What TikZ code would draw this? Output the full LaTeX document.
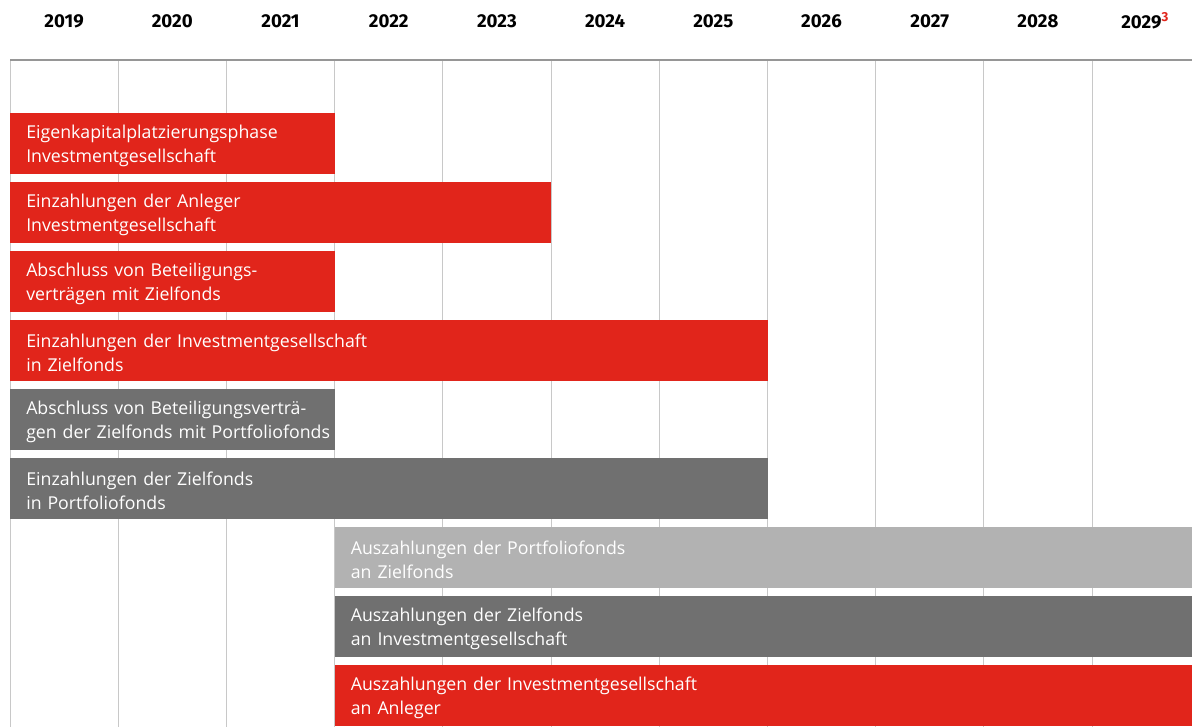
\documentclass[tikz,border=0pt]{standalone}
\usepackage{fontspec}
\setmainfont{Open Sans}
\newfontfamily\yearfont{Fira Sans}
\definecolor{cred}{RGB}{225,37,27}
\definecolor{cdark}{RGB}{112,112,112}
\definecolor{clight}{RGB}{178,178,178}
\definecolor{cgrid}{RGB}{200,200,200}
\definecolor{ctop}{RGB}{150,150,150}
\begin{document}
\begin{tikzpicture}[x=0.75pt,y=-0.75pt,
  yearlbl/.style={font=\yearfont\fontsize{14}{16}\selectfont\bfseries, text=black, inner sep=0pt},
  bar/.style={anchor=north west, minimum height=45.75pt, inner xsep=12pt, inner ysep=0pt,
     text=white, align=left, font=\fontsize{13.3}{18}\selectfont,
     execute at begin node={\rule{0pt}{14pt}}},
  gridline/.style={draw=cgrid, line width=0.75pt},
  topline/.style={draw=ctop, line width=1.5pt}]
\useasboundingbox (0,0) rectangle (1192,727);
% grid
\foreach \i in {0,...,10} {
  \coordinate (g\i) at ({10+108.2*\i},60);
  \coordinate (h\i) at ({10+108.2*\i},727);
  \draw[gridline] (g\i) -- (h\i);
}
\coordinate (tl) at (10,60);
\coordinate (tr) at (1192,60);
\draw[topline] (tl) -- (tr);
% years
\foreach \i/\y in {0/2019,1/2020,2/2021,3/2022,4/2023,5/2024,6/2025,7/2026,8/2027,9/2028} {
  \node[yearlbl] (y\i) at ({64.1+108.2*\i},21) {\y};
}
\node[yearlbl, anchor=west] (y10) at (1121,21) {2029\textsuperscript{\textcolor{cred}{3}}};
% bars
\node[bar, fill=cred, minimum width=243.45pt, text width=219.45pt] (b1) at (10,112.5)
  {Eigenkapitalplatzierungsphase\\Investmentgesellschaft};
\node[bar, fill=cred, minimum width=405.75pt, text width=381.75pt] (b2) at (10,181.5)
  {Einzahlungen der Anleger\\Investmentgesellschaft};
\node[bar, fill=cred, minimum width=243.45pt, text width=219.45pt] (b3) at (10,250.5)
  {Abschluss von Beteiligungs-\\verträgen mit Zielfonds};
\node[bar, fill=cred, minimum width=568.05pt, text width=544.05pt] (b4) at (10,319.5)
  {Einzahlungen der Investmentgesellschaft\\in Zielfonds};
\node[bar, fill=cdark, minimum width=243.45pt, text width=219.45pt] (b5) at (10,388.5)
  {\mbox{Abschluss von Beteiligungsverträ-}\\\mbox{gen der Zielfonds mit Portfoliofonds}};
\node[bar, fill=cdark, minimum width=568.05pt, text width=544.05pt] (b6) at (10,457.5)
  {Einzahlungen der Zielfonds\\in Portfoliofonds};
\node[bar, fill=clight, minimum width=643.05pt, text width=619.05pt] (b7) at (334.6,526.5)
  {Auszahlungen der Portfoliofonds\\an Zielfonds};
\node[bar, fill=cdark, minimum width=643.05pt, text width=619.05pt] (b8) at (334.6,595.5)
  {Auszahlungen der Zielfonds\\an Investmentgesellschaft};
\node[bar, fill=cred, minimum width=643.05pt, text width=619.05pt] (b9) at (334.6,664.5)
  {Auszahlungen der Investmentgesellschaft\\an Anleger};
\end{tikzpicture}
\end{document}
